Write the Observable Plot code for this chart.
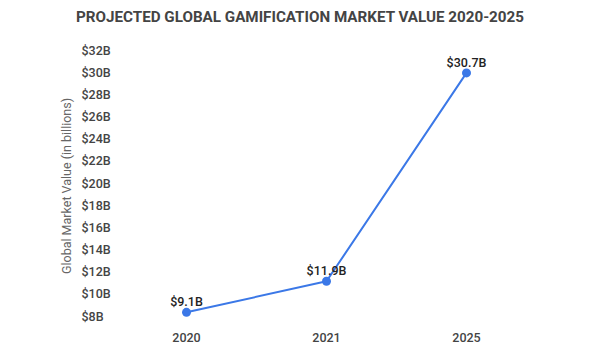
<!DOCTYPE html>
<html>
<head>
<meta charset="utf-8">
<script src="https://cdn.jsdelivr.net/npm/d3@7"></script>
<script src="https://cdn.jsdelivr.net/npm/@observablehq/plot@0.6"></script>
<style>
  html, body { margin: 0; padding: 0; background: #fff; }
  body { width: 600px; height: 350px; overflow: hidden; font-family: Roboto, sans-serif; position: relative; }
  #title { height: 34px; line-height: 34px; text-align: center; font-size: 15.2px; font-weight: bold; color: #444; }
  #ylabel { position: absolute; left: 66px; top: 186px; transform: translate(-50%, -50%) rotate(-90deg); white-space: nowrap; font-size: 12.5px; color: #666; }
</style>
</head>
<body>
<div id="title">PROJECTED GLOBAL GAMIFICATION MARKET VALUE 2020-2025</div>
<div id="chart"></div>
<div id="ylabel">Global Market Value (in billions)</div>
<script>
const years = ["2020", "2021", "2025"];
const values = [9.1, 11.9, 30.7];
const labels = ["$9.1B", "$11.9B", "$30.7B"];
const yTicks = [8, 10, 12, 14, 16, 18, 20, 22, 24, 26, 28, 30, 32];

const data = years.map((y, i) => ({year: y, value: values[i], label: labels[i]}));

const chart = Plot.plot({
  width: 600,
  height: 316,
  marginTop: 24,
  marginBottom: 26,
  marginLeft: 116,
  marginRight: 64,
  style: {fontFamily: "Roboto, sans-serif", background: "#fff"},
  x: {type: "point", domain: years, padding: 0.5},
  y: {domain: [8, 32], ticks: yTicks},
  marks: [
    Plot.axisY({
      ticks: yTicks,
      tickSize: 0,
      tickPadding: 3,
      textAnchor: "start",
      dx: -32,
      dy: -8,
      tickFormat: d => `$${d}B`,
      fontSize: 12.5,
      fontWeight: 500,
      fill: "#444",
      label: null
    }),
    Plot.axisX({
      tickSize: 0,
      tickPadding: 9,
      fontSize: 12.5,
      fontWeight: 500,
      fill: "#444",
      label: null
    }),
    Plot.line(data, {x: "year", y: "value", stroke: "#3b78e7", strokeWidth: 2}),
    Plot.dot(data, {x: "year", y: "value", r: 4.5, fill: "#3b78e7", stroke: "none"}),
    Plot.text(data, {x: "year", y: "value", text: "label", dy: -10, fontSize: 12.5, fontWeight: 500, fill: "#222"})
  ]
});
document.getElementById("chart").appendChild(chart);
</script>
</body>
</html>
